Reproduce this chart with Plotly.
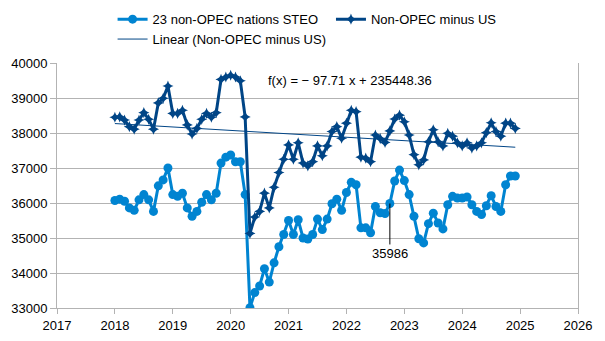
import plotly.graph_objects as go

# Monthly output, Jan 2018 - Dec 2024 (kb/d)
steo_23_non_opec = [
    36070, 36110, 36050, 35860, 35790, 36090, 36240, 36090, 35760, 36490, 36660, 37000,
    36240, 36190, 36280, 35860, 35620, 35760, 36020, 36240, 36090, 36280, 37140, 37310,
    37370, 37180, 37180, 36240, 33010, 33440, 33630, 34120, 33740, 34290, 34750, 35100,
    35500, 35100, 35520, 35000, 34970, 35100, 35540, 35240, 35540, 35980, 36110, 35790,
    36300, 36590, 36520, 35290, 35290, 35150, 35900, 35720, 35700, 35986, 36630, 36940,
    36640, 36240, 35620, 34980, 34860, 35410, 35710, 35430, 35260, 35950, 36190, 36140,
    36140, 36170, 35950, 35760, 35670, 35920, 36210, 35900, 35760, 36520, 36770, 36770,
]
non_opec_minus_us = [
    38450, 38460, 38370, 38180, 38110, 38370, 38580, 38390, 38110, 38860, 38990, 39340,
    38560, 38560, 38650, 38230, 37970, 38130, 38390, 38560, 38450, 38580, 39530, 39600,
    39650, 39600, 39490, 38460, 35130, 35600, 35760, 36280, 35860, 36450, 36870, 37250,
    37660, 37250, 37720, 37140, 37060, 37180, 37630, 37350, 37630, 38040, 38180, 37850,
    38280, 38650, 38610, 37310, 37280, 37180, 37940, 37840, 37730, 38060, 38400, 38510,
    38320, 37940, 37380, 37090, 37230, 37750, 38090, 37750, 37630, 37990, 37910, 37720,
    37630, 37720, 37570, 37630, 37720, 38010, 38290, 38040, 37910, 38280, 38280, 38130,
]
start_year = 2018
# decimal-year position of each monthly sample
months = [start_year + i / 12 for i in range(len(steo_23_non_opec))]

# linear trend of "Non-OPEC minus US"
trend_slope = -97.71
trend_intercept = 235448.36
trend_x = [months[0], months[-1]]
trend_y = [trend_slope * x + trend_intercept for x in trend_x]

labelled_index = 57  # Oct 2022

x_ticks = list(range(2017, 2027))

LIGHT_BLUE = "#0084d1"
DARK_BLUE = "#004586"
GRID = "#b3b3b3"
FONT = "Liberation Sans, Arial, sans-serif"

fig = go.Figure()
fig.add_trace(go.Scatter(
    x=months, y=steo_23_non_opec, mode="lines+markers",
    name="23 non-OPEC nations STEO",
    line=dict(color=LIGHT_BLUE, width=3),
    marker=dict(symbol="circle", size=9, color=LIGHT_BLUE),
))
fig.add_trace(go.Scatter(
    x=months, y=non_opec_minus_us, mode="lines+markers",
    name="Non-OPEC minus US",
    line=dict(color=DARK_BLUE, width=3),
    marker=dict(symbol="star-diamond", size=8, color=DARK_BLUE),
))
fig.add_trace(go.Scatter(
    x=trend_x, y=trend_y, mode="lines",
    name="Linear (Non-OPEC minus US)",
    line=dict(color=DARK_BLUE, width=1),
))

fig.add_annotation(
    x=months[labelled_index], y=steo_23_non_opec[labelled_index],
    text=str(steo_23_non_opec[labelled_index]),
    showarrow=True, arrowhead=0, arrowwidth=1, arrowcolor="#000000",
    ax=0, ay=50, standoff=0, font=dict(size=13, color="#000000", family=FONT),
)
sign = "−" if trend_slope < 0 else "+"
fig.add_annotation(
    xref="paper", yref="paper", x=0.563, y=0.93,
    xanchor="center", yanchor="middle",
    text=f"f(x) = {sign} {abs(trend_slope):.2f} x + {trend_intercept:.2f}",
    showarrow=False, font=dict(size=13, color="#000000", family=FONT),
)

fig.update_layout(
    width=605, height=341,
    margin=dict(l=57, r=27, t=63, b=33, autoexpand=False),
    paper_bgcolor="white", plot_bgcolor="white",
    font=dict(family=FONT, size=13, color="#000000"),
    showlegend=True,
    legend=dict(
        orientation="h", x=0.48, xanchor="center", y=1.24, yanchor="top",
        font=dict(size=13), tracegroupgap=0, itemwidth=30,
        bgcolor="rgba(0,0,0,0)",
    ),
    xaxis=dict(
        range=[2017, 2026], tickmode="array", tickvals=x_ticks,
        ticktext=[str(t) for t in x_ticks],
        showgrid=False, showline=True, linecolor=GRID, linewidth=1,
        ticks="outside", ticklen=5, tickcolor=GRID, zeroline=False,
    ),
    yaxis=dict(
        range=[33000, 40000], dtick=1000, tickformat="d",
        showgrid=True, gridcolor=GRID, gridwidth=1,
        showline=True, linecolor=GRID, linewidth=1, mirror=True,
        ticks="outside", ticklen=6, tickcolor=GRID, zeroline=False,
    ),
)

fig.write_html("out.html")
